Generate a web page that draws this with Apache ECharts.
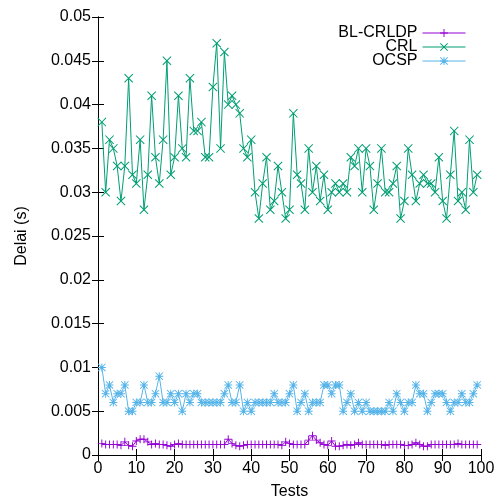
<!DOCTYPE html>
<html>
<head>
<meta charset="utf-8">
<script src="https://cdn.jsdelivr.net/npm/echarts@6/dist/echarts.min.js"></script>
<style>
  html, body { margin: 0; padding: 0; background: #fff; }
  #chart { width: 497px; height: 500px; }
</style>
</head>
<body>
<div id="chart"></div>
<script>
// test numbers run 1..99
const testCount = 99
const seriesNames = ['BL-CRLDP', 'CRL', 'OCSP']
const yTicks = [0, 0.005, 0.01, 0.015, 0.02, 0.025, 0.03, 0.035, 0.04, 0.045, 0.05]

// delays in seconds
const blCrldp = [
  0.0013, 0.0012, 0.0012, 0.0012, 0.0012, 0.0011, 0.0015, 0.0011, 0.0010, 0.0016,
  0.0018, 0.0018, 0.0015, 0.0012, 0.0013, 0.0012, 0.0012, 0.0011, 0.0010, 0.0012,
  0.0013, 0.0012, 0.0012, 0.0012, 0.0012, 0.0012, 0.0012, 0.0012, 0.0012, 0.0012,
  0.0012, 0.0012, 0.0012, 0.0018, 0.0013, 0.0011, 0.0010, 0.0011, 0.0012, 0.0012,
  0.0012, 0.0012, 0.0012, 0.0012, 0.0012, 0.0012, 0.0012, 0.0011, 0.0015, 0.0013,
  0.0012, 0.0012, 0.0012, 0.0012, 0.0017, 0.0022, 0.0017, 0.0014, 0.0012, 0.0011,
  0.0016, 0.0010, 0.0010, 0.0011, 0.0012, 0.0011, 0.0012, 0.0014, 0.0012, 0.0012,
  0.0012, 0.0012, 0.0012, 0.0012, 0.0011, 0.0012, 0.0012, 0.0012, 0.0012, 0.0011,
  0.0011, 0.0012, 0.0014, 0.0012, 0.0010, 0.0010, 0.0012, 0.0012, 0.0012, 0.0012,
  0.0012, 0.0012, 0.0012, 0.0013, 0.0012, 0.0012, 0.0012, 0.0012, 0.0012
]
const crl = [
  0.038, 0.030, 0.036, 0.035, 0.033, 0.029, 0.033, 0.043, 0.032, 0.031,
  0.036, 0.028, 0.032, 0.041, 0.034, 0.031, 0.036, 0.045, 0.032, 0.034,
  0.041, 0.035, 0.034, 0.043, 0.037, 0.037, 0.038, 0.034, 0.034, 0.042,
  0.047, 0.035, 0.046, 0.040, 0.041, 0.040, 0.039, 0.035, 0.034, 0.036,
  0.030, 0.027, 0.031, 0.034, 0.028, 0.029, 0.033, 0.030, 0.027, 0.028,
  0.039, 0.032, 0.031, 0.028, 0.035, 0.030, 0.033, 0.029, 0.032, 0.028,
  0.030, 0.031, 0.030, 0.031, 0.030, 0.034, 0.033, 0.035, 0.030, 0.035,
  0.033, 0.028, 0.031, 0.035, 0.030, 0.030, 0.031, 0.033, 0.027, 0.029,
  0.035, 0.032, 0.029, 0.031, 0.032, 0.031, 0.031, 0.030, 0.034, 0.029,
  0.027, 0.032, 0.037, 0.029, 0.030, 0.028, 0.036, 0.030, 0.032
]
const ocsp = [
  0.010, 0.007, 0.008, 0.006, 0.007, 0.007, 0.008, 0.005, 0.005, 0.006,
  0.006, 0.008, 0.006, 0.006, 0.007, 0.009, 0.006, 0.006, 0.007, 0.006,
  0.007, 0.005, 0.007, 0.006, 0.007, 0.007, 0.006, 0.006, 0.006, 0.006,
  0.006, 0.006, 0.007, 0.008, 0.006, 0.006, 0.008, 0.005, 0.006, 0.005,
  0.006, 0.006, 0.006, 0.006, 0.006, 0.007, 0.006, 0.006, 0.006, 0.007,
  0.008, 0.005, 0.006, 0.007, 0.005, 0.006, 0.006, 0.006, 0.008, 0.008,
  0.007, 0.008, 0.008, 0.005, 0.006, 0.007, 0.005, 0.006, 0.005, 0.006,
  0.005, 0.005, 0.005, 0.005, 0.005, 0.006, 0.005, 0.007, 0.006, 0.005,
  0.006, 0.006, 0.008, 0.007, 0.007, 0.005, 0.006, 0.007, 0.007, 0.007,
  0.006, 0.005, 0.006, 0.006, 0.007, 0.006, 0.006, 0.007, 0.008
]

const colors = ['#9400d3', '#009e73', '#56b4e9']

// gnuplot style point types: +, x, *
const plusPath = 'M-1.2,-10H1.2V-1.2H10V1.2H1.2V10H-1.2V1.2H-10V-1.2H-1.2Z'
const crossPath = 'M-10,-8.4L-8.4,-10L0,-1.6L8.4,-10L10,-8.4L1.6,0L10,8.4L8.4,10L0,1.6L-8.4,10L-10,8.4L-1.6,0Z'
const symbols = [
  'path://' + plusPath,
  'path://' + crossPath,
  'path://' + plusPath + ' ' + crossPath
]
const symbolSizes = [8, 9, 8]

const font = 'Liberation Sans, Arial, sans-serif'
const fontSize = 16

function pairs(values) {
  return values.slice(0, testCount).map((v, i) => [i + 1, v])
}

const chart = echarts.init(document.getElementById('chart'))

const allValues = [blCrldp, crl, ocsp]

const option = {
  animation: false,
  textStyle: { fontFamily: font },
  grid: { left: 98, right: 16, top: 17, bottom: 45, containLabel: false, outerBoundsMode: 'none' },
  legend: {
    orient: 'vertical',
    right: 26,
    top: 20,
    align: 'right',
    itemWidth: 43,
    itemHeight: 10,
    itemGap: -2,
    lineStyle: { width: 1 },
    textStyle: { fontSize: fontSize, lineHeight: 15, color: '#000', fontFamily: font },
    data: seriesNames
  },
  xAxis: [
    {
      type: 'value',
      min: 0,
      max: 100,
      interval: 10,
      name: 'Tests',
      nameLocation: 'middle',
      nameGap: 29,
      nameTextStyle: { fontSize: fontSize, color: '#000', fontFamily: font },
      axisLine: { lineStyle: { color: '#000', width: 1 } },
      axisTick: { inside: true, length: 6, lineStyle: { color: '#000' } },
      axisLabel: { fontSize: fontSize, color: '#000', margin: 6, fontFamily: font },
      splitLine: { show: false }
    },
    {
      type: 'value',
      position: 'top',
      min: 0,
      max: 100,
      interval: 10,
      axisLine: { lineStyle: { color: '#000', width: 1 } },
      axisTick: { inside: true, length: 6, lineStyle: { color: '#000' } },
      axisLabel: { show: false },
      splitLine: { show: false }
    }
  ],
  yAxis: [
    {
      type: 'value',
      min: 0,
      max: 0.05,
      interval: 0.005,
      name: 'Delai (s)',
      nameLocation: 'middle',
      nameGap: 68,
      nameTextStyle: { fontSize: fontSize, color: '#000', fontFamily: font },
      axisLine: { show: true, lineStyle: { color: '#000', width: 1 } },
      axisTick: { show: true, inside: true, length: 6, lineStyle: { color: '#000' } },
      axisLabel: {
        fontSize: fontSize,
        color: '#000',
        margin: 7,
        fontFamily: font,
        formatter: (v) => {
          const t = yTicks.find(t => Math.abs(t - v) < 1e-9)
          return String(t !== undefined ? t : v)
        }
      },
      splitLine: { show: false }
    },
    {
      type: 'value',
      position: 'right',
      min: 0,
      max: 0.05,
      interval: 0.005,
      axisLine: { show: true, lineStyle: { color: '#000', width: 1 } },
      axisTick: { show: true, inside: true, length: 6, lineStyle: { color: '#000' } },
      axisLabel: { show: false },
      splitLine: { show: false }
    }
  ],
  series: seriesNames.map((name, k) => ({
    name: name,
    type: 'line',
    xAxisIndex: 0,
    yAxisIndex: 0,
    data: pairs(allValues[k]),
    symbol: symbols[k],
    symbolSize: symbolSizes[k],
    showSymbol: true,
    lineStyle: { color: colors[k], width: 1 },
    itemStyle: { color: colors[k], borderWidth: 0 },
    emphasis: { disabled: true }
  }))
}

chart.setOption(option)
</script>
</body>
</html>
